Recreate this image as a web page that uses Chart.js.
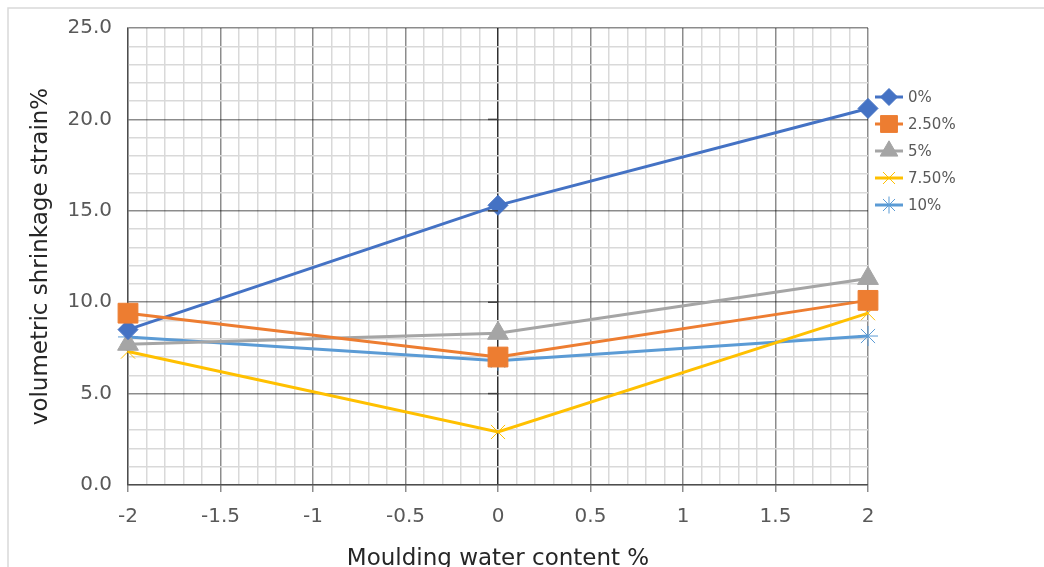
<!DOCTYPE html>
<html>
<head>
<meta charset="utf-8">
<script src="https://cdn.jsdelivr.net/npm/chart.js@4/dist/chart.umd.min.js"></script>
<style>
  html, body { margin: 0; padding: 0; background: #ffffff; }
  #wrap { width: 1044px; height: 567px; position: relative; }
</style>
</head>
<body>
<div id="wrap"><canvas id="c" width="1044" height="567"></canvas></div>
<script>
// ---- data ----
const xValues = [-2, 0, 2];
const seriesNames = ['0%', '2.50%', '5%', '7.50%', '10%'];
const s0 = [8.5, 15.3, 20.6];
const s25 = [9.4, 7.0, 10.1];
const s5 = [7.7, 8.3, 11.3];
const s75 = [7.3, 2.9, 9.4];
const s10 = [8.1, 6.8, 8.15];
const xTickLabels = ['-2', '-1.5', '-1', '-0.5', '0', '0.5', '1', '1.5', '2'];
const yTickLabels = ['0.0', '5.0', '10.0', '15.0', '20.0', '25.0'];

const FONT = "'DejaVu Sans', sans-serif";
const TEXT = '#595959';
const MAJOR = 'rgba(0,0,0,0.45)';
const MINOR = '#d9d9d9';

function pts(ys) { return xValues.map((x, i) => ({ x: x, y: ys[i] })); }
function isMult(v, step) { const q = v / step; return Math.abs(q - Math.round(q)) < 1e-6; }

const styles = [
  { color: '#4472C4', fill: '#4472C4', point: 'rectRot', r: 10, bw: 1 },
  { color: '#ED7D31', fill: '#ED7D31', point: 'rect', r: 14, bw: 1 },
  { color: '#A5A5A5', fill: '#A5A5A5', point: 'triangle', r: 12, bw: 1 },
  { color: '#FFC000', fill: '#FFC000', point: 'crossRot', r: 10, bw: 1 },
  { color: '#5B9BD5', fill: '#5B9BD5', point: 'star', r: 10, bw: 1 }
];
const allSeries = [s0, s25, s5, s75, s10];

const datasets = allSeries.map((s, i) => ({
  label: seriesNames[i],
  data: pts(s),
  borderColor: styles[i].color,
  backgroundColor: styles[i].fill,
  borderWidth: 3,
  pointStyle: styles[i].point,
  pointRadius: styles[i].r,
  pointBorderColor: styles[i].color,
  pointBackgroundColor: styles[i].fill,
  pointBorderWidth: styles[i].bw,
  tension: 0,
  clip: false,
  order: i === 1 ? -1 : i
}));

const framePlugin = {
  id: 'frame',
  beforeDraw(chart) {
    const ctx = chart.ctx;
    ctx.save();
    ctx.fillStyle = '#ffffff';
    ctx.fillRect(0, 0, chart.width, chart.height);
    ctx.strokeStyle = '#d9d9d9';
    ctx.lineWidth = 1.5;
    ctx.strokeRect(8, 8, chart.width + 40, chart.height + 40);
    ctx.restore();
  }
};

const crossTicksPlugin = {
  id: 'crossTicks',
  afterDraw(chart) {
    const ctx = chart.ctx;
    const xs = chart.scales.x, ys = chart.scales.y;
    const x0 = xs.getPixelForValue(0);
    ctx.save();
    ctx.strokeStyle = '#404040';
    ctx.lineWidth = 1.5;
    ys.ticks.forEach(t => {
      if (isMult(t.value, 5) && t.value > 0 && t.value < 25) {
        const py = ys.getPixelForValue(t.value);
        ctx.beginPath();
        ctx.moveTo(x0 - 10, py);
        ctx.lineTo(x0, py);
        ctx.stroke();
      }
    });
    ctx.restore();
  }
};

const legendPlugin = {
  id: 'sideLegend',
  afterDraw(chart) {
    const ctx = chart.ctx;
    const x1 = 875, x2 = 903, tx = 908;
    ctx.save();
    chart.data.datasets.forEach((ds, i) => {
      const y = 97 + i * 27;
      ctx.strokeStyle = ds.borderColor;
      ctx.lineWidth = 3;
      ctx.beginPath();
      ctx.moveTo(x1, y);
      ctx.lineTo(x2, y);
      ctx.stroke();
      ctx.fillStyle = ds.pointBackgroundColor;
      ctx.strokeStyle = ds.pointBorderColor;
      ctx.lineWidth = ds.pointBorderWidth;
      Chart.helpers.drawPoint(ctx, {
        pointStyle: ds.pointStyle,
        radius: ds.pointRadius * 0.85,
        rotation: 0,
        borderWidth: ds.pointBorderWidth
      }, (x1 + x2) / 2, y);
      ctx.fillStyle = TEXT;
      ctx.font = '15px ' + FONT;
      ctx.textAlign = 'left';
      ctx.textBaseline = 'middle';
      ctx.fillText(ds.label, tx, y + 1);
    });
    ctx.restore();
  }
};

new Chart(document.getElementById('c'), {
  type: 'line',
  data: { datasets: datasets },
  plugins: [framePlugin, crossTicksPlugin, legendPlugin],
  options: {
    responsive: false,
    animation: false,
    devicePixelRatio: 1,
    layout: { padding: { left: 0, top: 25, right: 176, bottom: 0 } },
    plugins: { legend: { display: false }, tooltip: { enabled: false } },
    scales: {
      x: {
        type: 'linear',
        min: -2, max: 2,
        afterFit(scale) { scale.height = 82; },
        ticks: {
          stepSize: 0.1,
          autoSkip: false,
          maxRotation: 0,
          padding: 13,
          color: TEXT,
          font: { family: FONT, size: 20 },
          callback(v) {
            if (!isMult(v, 0.5)) return '';
            const idx = Math.round((v + 2) / 0.5);
            return xTickLabels[idx];
          }
        },
        grid: {
          drawTicks: true,
          tickLength: 7,
          color(ctx) {
            const v = ctx.tick ? ctx.tick.value : 0;
            if (Math.abs(v) < 1e-6) return '#303030';
            return isMult(v, 0.5) ? MAJOR : MINOR;
          },
          tickColor(ctx) {
            const v = ctx.tick ? ctx.tick.value : 0;
            return isMult(v, 0.5) ? MAJOR : 'rgba(0,0,0,0)';
          },
          lineWidth: 1.5
        },
        border: { display: true, color: MAJOR, width: 1.5 },
        title: {
          display: true,
          text: 'Moulding water content %',
          color: '#262626',
          font: { family: FONT, size: 23 },
          padding: { top: 0, bottom: -6 }
        }
      },
      y: {
        type: 'linear',
        min: 0, max: 25,
        afterFit(scale) { scale.width = 128; },
        ticks: {
          stepSize: 1,
          autoSkip: false,
          padding: 16,
          color: TEXT,
          font: { family: FONT, size: 20 },
          callback(v) {
            if (!isMult(v, 5)) return '';
            return yTickLabels[Math.round(v / 5)];
          }
        },
        grid: {
          drawTicks: false,
          color(ctx) {
            const v = ctx.tick ? ctx.tick.value : 0;
            return isMult(v, 5) ? MAJOR : MINOR;
          },
          lineWidth: 1.5
        },
        border: { display: true, color: MAJOR, width: 1.5 },
        title: {
          display: true,
          text: 'volumetric shrinkage strain%',
          color: '#262626',
          font: { family: FONT, size: 23 },
          padding: { top: 27, bottom: 0 }
        }
      }
    }
  }
});
</script>
</body>
</html>
